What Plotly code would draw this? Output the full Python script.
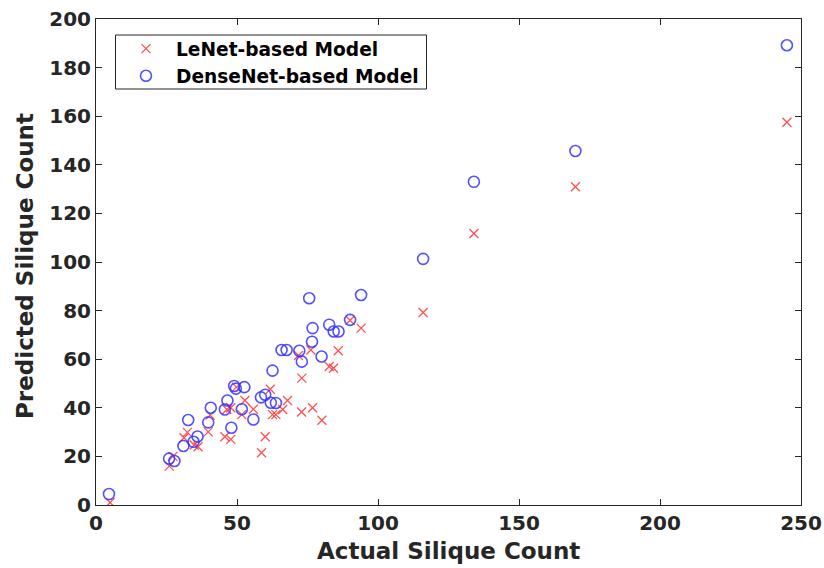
import plotly.graph_objects as go

lenet_actual = [5, 26, 27.3, 31.2, 32.4, 34.8, 36.2, 39.8, 40.5, 45.7, 47.8, 46.4, 47.8, 49.8,
                51.7, 52.8, 55.8, 58.7, 60, 61.8, 62.6, 63.8, 66.2, 67.9, 71.8, 73, 72.9, 76.2,
                76.8, 80.1, 82.7, 84.2, 85.9, 90.1, 94, 116, 134, 170, 245]
lenet_pred = [1, 16, 20, 27.7, 29.9, 24.7, 24, 30.1, 37, 28.1, 27, 39.3, 40, 48.5,
              37.2, 43, 39.4, 21.5, 28.1, 47.6, 37.2, 37.2, 39.3, 43, 61.5, 52.2, 38.3, 63.8,
              40, 34.9, 57, 56.3, 63.5, 76, 72.8, 79.2, 111.7, 131, 157.5]

dense_actual = [4.6, 25.9, 27.8, 31, 32.7, 34.6, 36, 39.8, 40.7, 45.7, 46.6, 48, 49, 49.6,
                52.6, 51.7, 55.8, 58.5, 60, 62, 62.6, 63.8, 65.8, 67.6, 72.1, 73, 75.6, 76.6,
                76.8, 80, 82.7, 84.3, 86, 90.1, 94, 116, 134, 170, 245]
dense_pred = [4.5, 19.1, 18.1, 24.3, 35, 26, 28.2, 34, 40, 39.3, 43, 31.8, 49, 47.9,
              48.5, 39.4, 35.2, 44.3, 45.4, 42.1, 55.3, 42, 63.8, 63.8, 63.5, 59, 85.1, 67.2,
              72.8, 61.1, 74.2, 71.4, 71.4, 76.2, 86.4, 101.3, 133, 145.7, 189.2]

x_ticks = [0, 50, 100, 150, 200, 250]
y_ticks = [0, 20, 40, 60, 80, 100, 120, 140, 160, 180, 200]
x_title = "Actual Silique Count"
y_title = "Predicted Silique Count"
series_names = ["LeNet-based Model", "DenseNet-based Model"]

FONT = "DejaVu Sans"
TXT = "#262626"
RED = "rgba(255,50,50,0.85)"
BLUE = "rgba(50,50,255,0.85)"

fig = go.Figure()
fig.add_trace(go.Scatter(
    x=lenet_actual, y=lenet_pred, mode="markers", name=f"<b>{series_names[0]}</b>",
    marker=dict(symbol="x-thin-open", size=9, color=RED, line=dict(color=RED, width=1.3)),
))
fig.add_trace(go.Scatter(
    x=dense_actual, y=dense_pred, mode="markers", name=f"<b>{series_names[1]}</b>",
    marker=dict(symbol="circle-open", size=11, color=BLUE, line=dict(color=BLUE, width=1.6)),
))

axis_common = dict(
    showgrid=False, zeroline=False, showline=True, linecolor="#262626", linewidth=1,
    mirror="ticks", ticks="inside", ticklen=6, tickcolor="#262626", automargin=False,
    tickfont=dict(family=FONT, size=20, color=TXT),
)

# plot area in pixels: x 96..801, y 19..505
L, R, T, B = 96, 801, 19, 505
W, H = R - L, B - T

def px_x(p):
    return (p - L) / W

def px_y(p):
    return (B - p) / H

fig.update_layout(
    width=824, height=568,
    margin=dict(l=L, r=824 - R, t=T, b=568 - B),
    paper_bgcolor="white", plot_bgcolor="white",
    font=dict(family=FONT, color=TXT),
    xaxis=dict(range=[0, 250], tickvals=x_ticks, ticktext=[f"<b>{v}</b>" for v in x_ticks],
               **axis_common),
    yaxis=dict(range=[0, 200], tickvals=y_ticks, ticktext=[f"<b>{v}</b>" for v in y_ticks],
               **axis_common),
    legend=dict(x=px_x(116), y=px_y(30), xanchor="left", yanchor="top",
                borderwidth=0, bgcolor="rgba(0,0,0,0)",
                font=dict(family=FONT, size=18.6, color="black"),
                itemwidth=50, tracegroupgap=0),
    showlegend=True,
    shapes=[dict(type="rect", xref="paper", yref="paper",
                 x0=px_x(115.5), x1=px_x(426.5), y0=px_y(89), y1=px_y(35),
                 line=dict(color="#262626", width=1), fillcolor="white", layer="below")],
    annotations=[
        dict(text=f"<b>{x_title}</b>", xref="paper", yref="paper", x=0.5, y=px_y(551),
             xanchor="center", yanchor="middle", showarrow=False,
             font=dict(family=FONT, size=23, color=TXT)),
        dict(text=f"<b>{y_title}</b>", xref="paper", yref="paper", x=px_x(25), y=px_y(266),
             xanchor="center", yanchor="middle", showarrow=False, textangle=-90,
             font=dict(family=FONT, size=23, color=TXT)),
    ],
)

fig.write_html("out.html")
